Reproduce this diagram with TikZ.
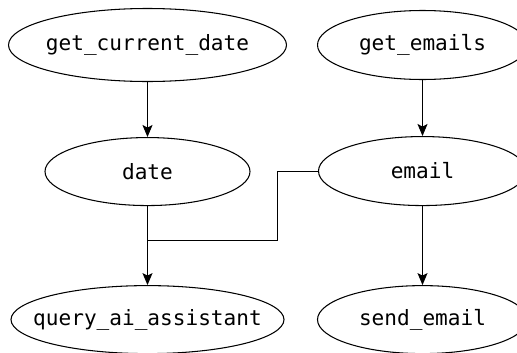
\documentclass[tikz,border=0pt]{standalone}
\usepackage{fontspec}
\setmonofont{DejaVu Sans Mono}
\usetikzlibrary{positioning, shapes.geometric, arrows.meta}

\begin{document}
\begin{tikzpicture}[
    line width=0.6pt,
    node distance=1.1cm and 1.2cm, % Vertical and horizontal spacing
    task/.style={draw, ellipse, minimum height=1.36cm, inner xsep=-0.4cm, inner ysep=0pt, align=center, font=\ttfamily\fontsize{12}{14}\selectfont},
    flow/.style={-{Stealth[length=2.4mm, width=2mm, inset=0.5mm]}}
]
\clip (-2.95,0.9) rectangle (7.39,-6.14);

%%%%% Date column
\node[task, minimum width=5.56cm, minimum height=1.46cm] (getdate) at (0,0) {get\_current\_date};
\node[task, minimum width=4.1cm,  below=of getdate] (date) {date};
\node[task, minimum width=5.46cm, below=1.58cm of date] (query) {query\_ai\_assistant};

%%%%% Email column
\node[task, minimum width=4.2cm, minimum height=1.38cm] (getemails) at (5.5,0) {get\_emails};
\node[task, minimum width=4.16cm, minimum height=1.38cm, below=1.12cm of getemails] (email) {email};
\node[task, minimum width=4.2cm,  below=1.58cm of email] (sendemail) {send\_email};

% Junction on the date line
\coordinate (join) at (0,-3.91);

%  Draw arrows between nodes
\draw[flow] (getdate) -- (date);
\draw[flow] (date) -- (query);
\draw[flow] (getemails) -- (email);
\draw[flow] (email) -- (sendemail);

\draw (email.west) -- ++(-0.81,0) |- (join);

\end{tikzpicture}
\end{document}
